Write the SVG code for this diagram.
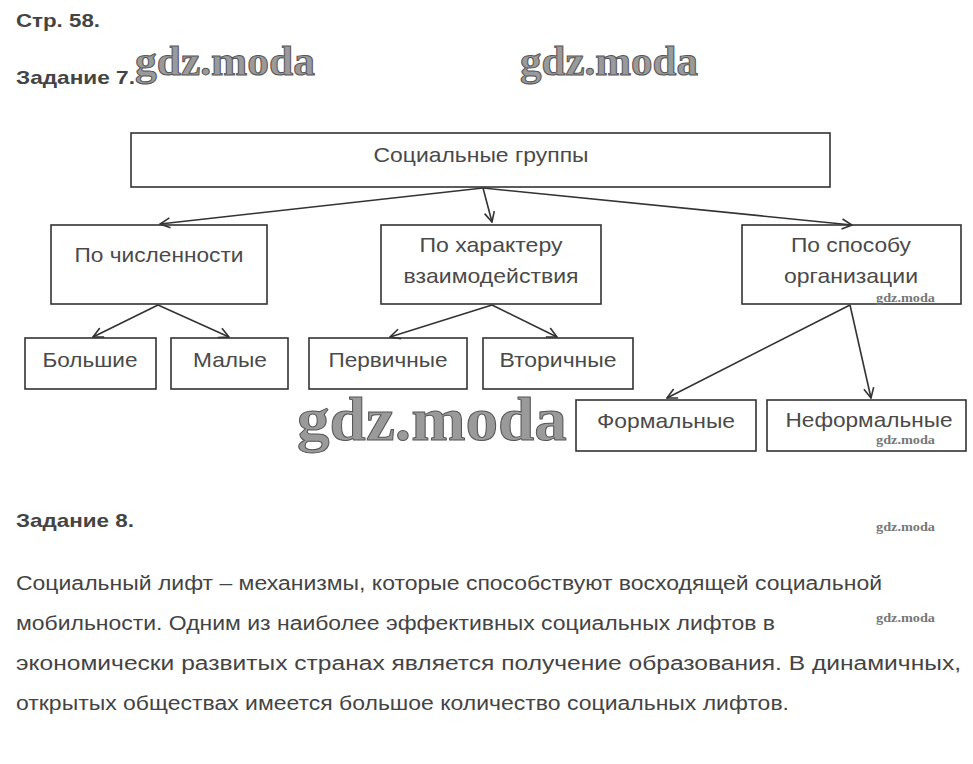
<svg xmlns="http://www.w3.org/2000/svg" width="973" height="764" viewBox="0 0 973 764">
<defs>
<style>
.box{fill:#fff;stroke:#333;stroke-width:1.6}
.lbl{font-family:"Liberation Sans",Arial,sans-serif;font-size:21px;fill:#4a4a4a;text-anchor:middle}
.hd{font-family:"Liberation Sans",Arial,sans-serif;font-size:19px;font-weight:bold;fill:#444}
.par{font-family:"Liberation Sans",Arial,sans-serif;font-size:20px;fill:#444}
.conn line{stroke:#333;stroke-width:1.6;fill:none}
.wm{font-family:"Liberation Serif","Times New Roman",serif;font-weight:bold;fill:#9a9a9a;stroke:#555;stroke-width:1}
.wms{font-family:"Liberation Serif","Times New Roman",serif;font-weight:bold;fill:#777;font-size:13px}
</style>
<marker id="arr" viewBox="0 0 12 12" refX="11" refY="6" markerWidth="12" markerHeight="12" markerUnits="userSpaceOnUse" orient="auto">
<path d="M1,1 L11,6 L1,11" fill="none" stroke="#333" stroke-width="1.6"/>
</marker>
</defs>
<rect width="973" height="764" fill="#fff"/>
<text class="hd" x="16" y="27" textLength="84" lengthAdjust="spacingAndGlyphs">Стр. 58.</text>
<text class="hd" x="16" y="84" textLength="119" lengthAdjust="spacingAndGlyphs">Задание 7.</text>

<g id="n-root"><rect class="box" x="131" y="133" width="699" height="54"/><text class="lbl" x="481" y="162" textLength="215" lengthAdjust="spacingAndGlyphs">Социальные группы</text></g>
<g id="n-chisl"><rect class="box" x="51" y="225" width="216" height="79"/><text class="lbl" x="159" y="262" textLength="169" lengthAdjust="spacingAndGlyphs">По численности</text></g>
<g id="n-harakter"><rect class="box" x="381" y="225" width="220" height="79"/><text class="lbl" x="491" y="252" textLength="143" lengthAdjust="spacingAndGlyphs">По характеру</text><text class="lbl" x="491" y="283" textLength="175" lengthAdjust="spacingAndGlyphs">взаимодействия</text></g>
<g id="n-sposob"><rect class="box" x="742" y="225" width="219" height="79"/><text class="lbl" x="851" y="252" textLength="120" lengthAdjust="spacingAndGlyphs">По способу</text><text class="lbl" x="851" y="283" textLength="134" lengthAdjust="spacingAndGlyphs">организации</text></g>
<g id="n-bolshie"><rect class="box" x="25" y="338" width="131" height="51"/><text class="lbl" x="90" y="367" textLength="95" lengthAdjust="spacingAndGlyphs">Большие</text></g>
<g id="n-malye"><rect class="box" x="171" y="338" width="117" height="51"/><text class="lbl" x="230" y="367" textLength="74" lengthAdjust="spacingAndGlyphs">Малые</text></g>
<g id="n-pervichnye"><rect class="box" x="309" y="338" width="158" height="51"/><text class="lbl" x="388" y="367" textLength="119" lengthAdjust="spacingAndGlyphs">Первичные</text></g>
<g id="n-vtorichnye"><rect class="box" x="483" y="338" width="150" height="51"/><text class="lbl" x="558" y="367" textLength="117" lengthAdjust="spacingAndGlyphs">Вторичные</text></g>
<g id="n-formalnye"><rect class="box" x="576" y="400" width="180" height="51"/><text class="lbl" x="666" y="428" textLength="138" lengthAdjust="spacingAndGlyphs">Формальные</text></g>
<g id="n-neformalnye"><rect class="box" x="767" y="400" width="199" height="51"/><text class="lbl" x="869" y="427" textLength="167" lengthAdjust="spacingAndGlyphs">Неформальные</text></g>

<g id="connectors" class="conn">
<line x1="483" y1="188" x2="160" y2="224" marker-end="url(#arr)"/>
<line x1="483" y1="188" x2="492" y2="222" marker-end="url(#arr)"/>
<line x1="483" y1="188" x2="852" y2="225" marker-end="url(#arr)"/>
<line x1="158" y1="305" x2="93" y2="337" marker-end="url(#arr)"/>
<line x1="158" y1="305" x2="229" y2="337" marker-end="url(#arr)"/>
<line x1="492" y1="305" x2="390" y2="337" marker-end="url(#arr)"/>
<line x1="492" y1="305" x2="557" y2="337" marker-end="url(#arr)"/>
<line x1="850" y1="305" x2="667" y2="398" marker-end="url(#arr)"/>
<line x1="850" y1="305" x2="871" y2="398" marker-end="url(#arr)"/>
</g>

<text class="hd" x="16" y="527" textLength="118" lengthAdjust="spacingAndGlyphs">Задание 8.</text>
<text class="par" x="16" y="590" textLength="866" lengthAdjust="spacingAndGlyphs">Социальный лифт – механизмы, которые способствуют восходящей социальной</text>
<text class="par" x="16" y="630" textLength="759" lengthAdjust="spacingAndGlyphs">мобильности. Одним из наиболее эффективных социальных лифтов в</text>
<text class="par" x="16" y="670" textLength="945" lengthAdjust="spacingAndGlyphs">экономически развитых странах является получение образования. В динамичных,</text>
<text class="par" x="16" y="710" textLength="773" lengthAdjust="spacingAndGlyphs">открытых обществах имеется большое количество социальных лифтов.</text>

<g id="watermarks">
<text class="wm" x="135" y="75" font-size="42" textLength="180" lengthAdjust="spacingAndGlyphs">gdz.moda</text>
<text class="wm" x="520" y="75" font-size="42" textLength="178" lengthAdjust="spacingAndGlyphs">gdz.moda</text>
<text class="wm" x="297" y="440" font-size="62" textLength="270" lengthAdjust="spacingAndGlyphs">gdz.moda</text>
<text class="wms" x="876" y="302" textLength="59" lengthAdjust="spacingAndGlyphs">gdz.moda</text>
<text class="wms" x="876" y="444" textLength="59" lengthAdjust="spacingAndGlyphs">gdz.moda</text>
<text class="wms" x="876" y="531" textLength="59" lengthAdjust="spacingAndGlyphs">gdz.moda</text>
<text class="wms" x="876" y="622" textLength="59" lengthAdjust="spacingAndGlyphs">gdz.moda</text>
</g>
</svg>
